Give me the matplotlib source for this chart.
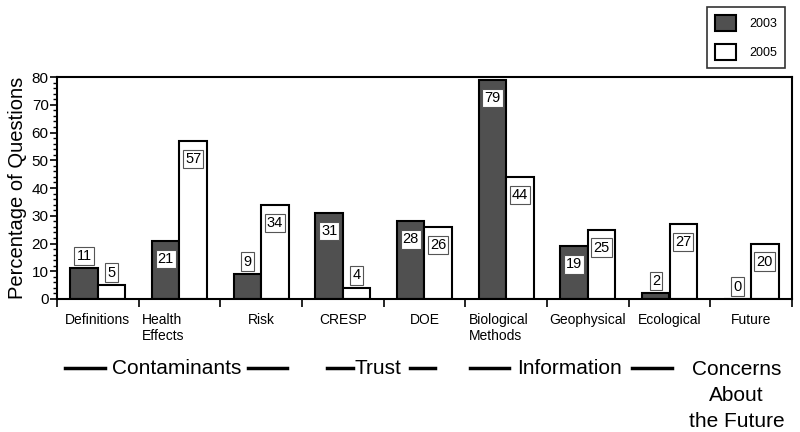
import matplotlib
matplotlib.use("Agg")
import matplotlib.pyplot as plt
import matplotlib.transforms as mtransforms
from matplotlib.lines import Line2D
import numpy as np

plt.rcParams['font.family'] = ['Liberation Sans', 'DejaVu Sans']

categories = ["Definitions", "Health\nEffects", "Risk", "CRESP", "DOE",
              "Biological\nMethods", "Geophysical", "Ecological", "Future"]
values_2003 = [11, 21, 9, 31, 28, 79, 19, 2, 0]
values_2005 = [5, 57, 34, 4, 26, 44, 25, 27, 20]
series_names = ["2003", "2005"]
groups = ["Contaminants", "Trust", "Information", "Concerns\nAbout\nthe Future"]

fig = plt.figure(figsize=(8, 4.32), dpi=100)
ax = fig.add_axes([57/800, 1-299/432, (792-57)/800, (299-77)/432])

x = np.arange(len(categories))
w = 0.335
dark = '#505050'
b1 = ax.bar(x - w/2, values_2003, w, color=dark, edgecolor='black', linewidth=1.5, label=series_names[0])
b2 = ax.bar(x + w/2, values_2005, w, color='white', edgecolor='black', linewidth=1.5, label=series_names[1])

box = dict(boxstyle='square,pad=0.15', facecolor='white', edgecolor='#555555', linewidth=0.8)
for xs, vals in ((x - w/2, values_2003), (x + w/2, values_2005)):
    for xi, v in zip(xs, vals):
        yl = v + 4.5 if v < 12 else v - 6.5
        ax.text(xi, yl, str(v), ha='center', va='center', fontsize=10.5, bbox=box, zorder=5)

ax.set_xlim(-0.5, len(categories) - 0.5)
ax.set_ylim(0, 80)
ax.set_yticks(np.arange(0, 81, 10))
ax.set_yticks(np.arange(0, 81, 2), minor=True)
ax.tick_params(axis='y', which='major', length=5, width=1.2, labelsize=11, pad=1)
ax.tick_params(axis='y', which='minor', length=3, width=1)
ax.set_xticks(x)
ax.set_xticklabels(categories, fontsize=10, multialignment='left', va='top')
ax.set_xticks(np.arange(-0.5, len(categories), 1.0), minor=True)
ax.tick_params(axis='x', which='major', length=0, pad=10)
ax.tick_params(axis='x', which='minor', length=6, width=1.2, direction='out')

offsets = {1: -16, 5: -7}
for i, lab in enumerate(ax.get_xticklabels()):
    if i in offsets:
        lab.set_transform(lab.get_transform() + mtransforms.ScaledTranslation(offsets[i]/100, 0, fig.dpi_scale_trans))

for s in ax.spines.values():
    s.set_linewidth(1.5)

ax.set_ylabel("Percentage of Questions", fontsize=14.5, labelpad=3)

leg = fig.legend(handles=[b1, b2], labels=series_names, loc='upper left',
                 bbox_to_anchor=(707/800, 1-7/432), fontsize=9, frameon=True,
                 fancybox=False, edgecolor='black', handlelength=1.7, handleheight=1.6,
                 borderpad=0.65, labelspacing=1.0, handletextpad=1.0, borderaxespad=0)
leg.get_frame().set_linewidth(1.2)

# group labels below axis
trans = mtransforms.blended_transform_factory(ax.transData, ax.transAxes)
group_centers = [0.96, 3.435, 5.78, 7.82]
group_lines = [[(-0.40, 0.09), (1.84, 2.32)], [(2.805, 3.12), (3.82, 4.13)],
               [(4.555, 5.03), (6.54, 7.03)], []]
gy = -0.311
for name, cx, lines in zip(groups, group_centers, group_lines):
    multi = '\n' in name
    ax.text(cx, gy + (0.035 if multi else 0), name, transform=trans, ha='center',
            va='top' if multi else 'center', fontsize=15, linespacing=1.45, clip_on=False)
    for x0, x1 in lines:
        ax.add_line(Line2D([x0, x1], [gy, gy], transform=trans, color='black',
                           linewidth=2.5, clip_on=False))

fig.savefig("out.png", dpi=100)
